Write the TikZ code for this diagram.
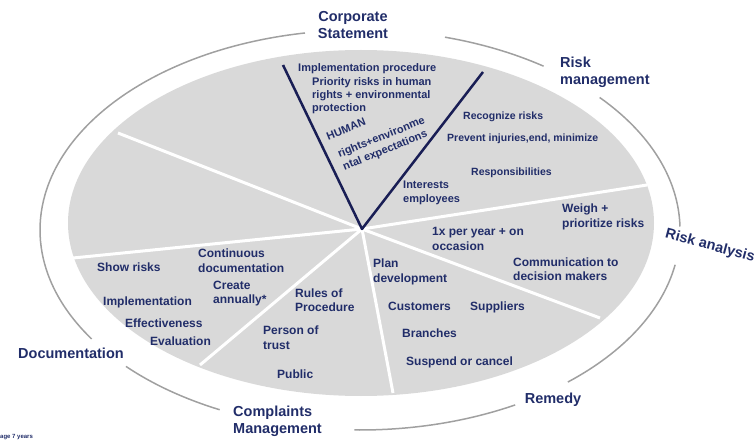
\documentclass[tikz,border=0pt]{standalone}
\usepackage{fontspec}
\setmainfont{Liberation Sans}
\definecolor{navy}{RGB}{33,45,105}
\definecolor{vline}{RGB}{25,30,85}
\definecolor{pie}{RGB}{217,217,217}
\definecolor{ringc}{RGB}{160,160,160}
\begin{document}
\begin{tikzpicture}[x=1pt,y=-1pt,
  lbl/.style={text=navy,font=\bfseries\fontsize{12}{14.5}\selectfont,align=left,anchor=west,inner sep=0pt},
  vlbl/.style={lbl,font=\bfseries\fontsize{11}{13.3}\selectfont},
  rlbl/.style={lbl,font=\bfseries\fontsize{10.5}{13}\selectfont},
  outer/.style={text=navy,font=\bfseries\fontsize{14.5}{17}\selectfont,inner sep=0pt},
  divider/.style={draw=white,line width=3pt},
  vstroke/.style={draw=vline,line width=2.5pt,line join=round},
  ringline/.style={draw=ringc,line width=1.5pt}]
\useasboundingbox (0,0) rectangle (756,441);
% pie
\fill[pie] (361,223) ellipse [x radius=293, y radius=173];
% outer ring arcs
\foreach \a/\b in {-99.9/-213, -223/-244, -269/-299, 49.5/10, -1/-41.5, -55/-74.6}
  \draw[ringline] ({360+320*cos(\a)},{230+200*sin(\a)}) arc[start angle=\a,end angle=\b,x radius=320,y radius=200];
% hub and sector edges
\coordinate (H) at (362,229);
\coordinate (e2) at (118,133);
\coordinate (e3) at (73,258);
\coordinate (e4) at (200,365);
\coordinate (e5) at (393,393);
\coordinate (e6) at (600,318);
\coordinate (e7) at (647,185);
\coordinate (vL) at (283,65);
\coordinate (vR) at (483,72);
\foreach \e in {e2,e3,e4,e5,e6,e7} \draw[divider] (H) -- (\e);
\draw[vstroke] (vL) -- (H) -- (vR);
% V sector
\node[vlbl] (t1) at (298,69) {Implementation procedure};
\node[vlbl] (t2) at (312,95.5) {Priority risks in human\\rights + environmental\\protection};
\node[vlbl,anchor=center,rotate=22] (t3) at (346,129) {HUMAN};
\node[vlbl,anchor=center,rotate=22,font=\bfseries\fontsize{11}{13.5}\selectfont] (t4) at (384,144) {rights+environme\\ntal expectations};
\node[vlbl] (t6) at (403,193) {Interests\\employees};
% risk management sector
\node[rlbl] (r1) at (463,117) {Recognize risks};
\node[rlbl] (r2) at (447,139) {Prevent injuries,end, minimize};
\node[rlbl] (r3) at (471,173) {Responsibilities};
% risk analysis sector
\node[lbl] (a1) at (562,217) {Weigh +\\prioritize risks};
\node[lbl] (a2) at (432,239) {1x per year + on\\occasion};
\node[lbl] (a3) at (513,269) {Communication to\\decision makers};
% remedy sector
\node[lbl] (m1) at (373,272) {Plan\\development};
\node[lbl] (m2) at (388,306) {Customers};
\node[lbl] (m3) at (470,307) {Suppliers};
\node[lbl] (m4) at (402,333) {Branches};
\node[lbl] (m5) at (406,362) {Suspend or cancel};
% complaints sector
\node[lbl] (c1) at (295,300) {Rules of\\Procedure};
\node[lbl] (c2) at (263,337.5) {Person of\\trust};
\node[lbl] (c3) at (277,374) {Public};
% documentation sector
\node[lbl] (d1) at (97,267) {Show risks};
\node[lbl] (d2) at (198,260.5) {Continuous\\documentation};
\node[lbl] (d3) at (213,293.5) {Create\\annually*};
\node[lbl] (d4) at (103,302) {Implementation};
\node[lbl] (d5) at (125,323) {Effectiveness};
\node[lbl] (d6) at (150,341) {Evaluation};
% outer labels
\node[outer,align=center] (o1) at (353,25) {Corporate\\Statement};
\node[outer,align=left,anchor=west] (o2) at (560,72) {Risk\\management};
\node[outer,rotate=-15] (o3) at (710,246) {Risk analysis};
\node[outer] (o4) at (553,400) {Remedy};
\node[outer,align=left,anchor=west] (o5) at (233,421.5) {Complaints\\Management};
\node[outer,anchor=west] (o6) at (18,353) {Documentation};
\node[text=navy,font=\bfseries\fontsize{6}{7}\selectfont,anchor=west,inner sep=0pt] (o7) at (0,437) {age 7 years};
\end{tikzpicture}
\end{document}
